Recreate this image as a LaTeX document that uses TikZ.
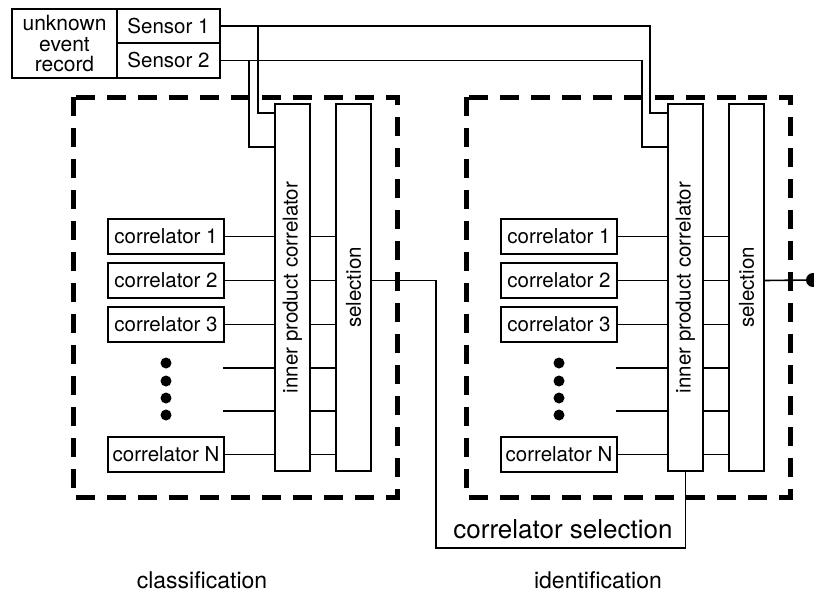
\documentclass[tikz,border=0pt]{standalone}
\usepackage{fontspec}
\usepackage{graphicx}
\setmainfont{TeX Gyre Heros}
\begin{document}
\begin{tikzpicture}[x=1pt,y=-1pt,
  box/.style={draw, line width=1.6pt, inner sep=0pt, font=\fontsize{20.5}{20.5}\selectfont},
  corr/.style={box, minimum width=116pt, minimum height=35pt},
  wire/.style={line width=1.6pt},
  frame/.style={line width=5pt, dash pattern=on 19pt off 12pt},
  label/.style={font=\fontsize{23}{23}\selectfont}]
  \useasboundingbox (0,0) rectangle (814,603);

  % Event record with its two sensors
  \node[box, minimum width=105pt, minimum height=69pt, align=center,
        font=\fontsize{21}{20.5}\selectfont] (rec) at (64.5,43.5) {unknown\\event\\record};
  \node[box, minimum width=103pt, minimum height=34pt] (s1) at (168.5,26) {Sensor 1};
  \node[box, minimum width=103pt, minimum height=35pt] (s2) at (168.5,60.5) {Sensor 2};

  % Classification (L) and identification (R) stages
  \foreach \p/\dx in {L/0, R/393} {
    \begin{scope}[shift={(\dx,0)}]
      \draw[frame] (73,97) rectangle (397,497);
      \node[box, minimum width=35pt, minimum height=367pt] (ipc\p) at (292.5,287.5)
        {\rotatebox{90}{inner product correlator}};
      \node[box, minimum width=35pt, minimum height=367pt] (sel\p) at (353.5,287.5)
        {\rotatebox{90}{selection}};
      \node[corr] (c1\p) at (166,236.5) {correlator 1};
      \node[corr] (c2\p) at (166,280.5) {correlator 2};
      \node[corr] (c3\p) at (166,324.5) {correlator 3};
      \node[corr] (cN\p) at (166,454.5) {correlator N};
      \coordinate (d1\p) at (223,368);
      \coordinate (d2\p) at (223,411);
      % dots
      \fill (166,363) circle (5.5pt);
      \fill (166,381) circle (5.5pt);
      \fill (166,398) circle (5.5pt);
      \fill (166,415) circle (5.5pt);
      % rows
      \foreach \r in {c1,c2,c3,d1,d2,cN}
        \draw[wire] (\r\p) -- (\r\p -| ipc\p.west)
                    (ipc\p.east |- \r\p) -- (sel\p.west |- \r\p);
    \end{scope}
  }

  % Sensor feeds
  \coordinate (tap1L) at (258,113);
  \coordinate (tap2L) at (249,147);
  \coordinate (tap1R) at (650,113);
  \coordinate (tap2R) at (642,147);
  \draw[wire] (s1) -| (tap1R) -- (tap1R -| ipcR.west);
  \draw[wire] (s2) -| (tap2R) -- (tap2R -| ipcR.west);
  \draw[wire] (tap1L |- s1) -- (tap1L) -- (tap1L -| ipcL.west);
  \draw[wire] (tap2L |- s2) -- (tap2L) -- (tap2L -| ipcL.west);

  % Correlator selection loop
  \coordinate (bend) at (436,548);
  \draw[wire] (selL.east |- c2L) -| (bend) -| (ipcR.south);
  \node[font=\fontsize{26}{26}\selectfont] (cs) at (563,529) {correlator selection};

  % Output
  \coordinate (out) at (813,280);
  \draw[wire] (selR.east |- c2R) -- (out);
  \fill (out) circle (7pt);

  % Stage labels
  \node[label] (cls) at (202,580) {classification};
  \node[label] (idf) at (598,580) {identification};
\end{tikzpicture}
\end{document}
